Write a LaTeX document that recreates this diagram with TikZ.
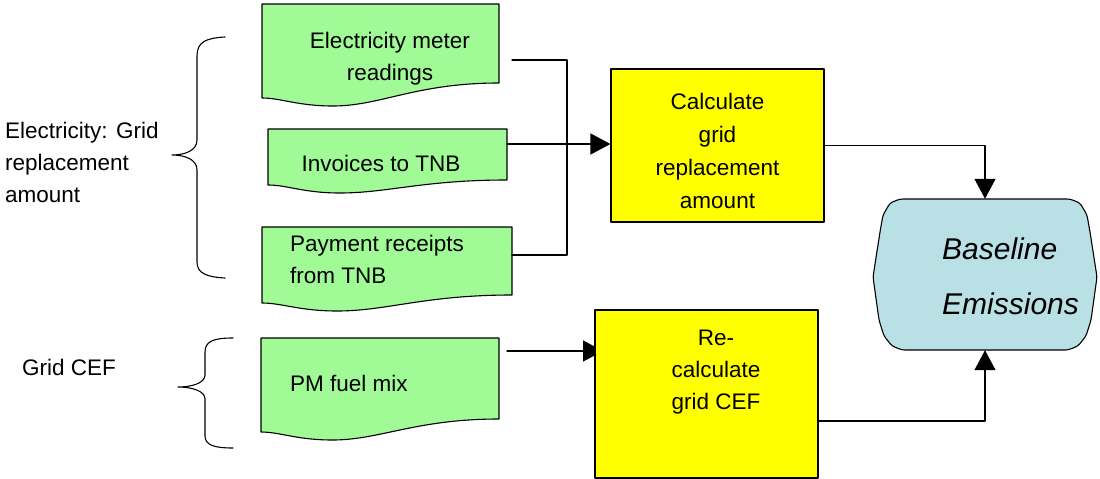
\documentclass[tikz,border=0pt]{standalone}
\usepackage{fontspec}
\setmainfont{Liberation Sans}
\usetikzlibrary{arrows.meta,calc,positioning}
\definecolor{docgreen}{RGB}{160,250,150}
\definecolor{boxyellow}{RGB}{255,255,0}
\definecolor{baseblue}{RGB}{185,224,228}
\tikzset{
  docf/.style={draw, fill=docgreen, line width=1.1pt},
  calcbox/.style={rectangle, draw, fill=boxyellow, line width=1.1pt, inner sep=0pt},
  txt/.style={inner sep=0pt, align=center, font=\fontsize{22.5}{32}\selectfont},
  wire/.style={line width=1.3pt},
  arr/.style={wire, -{Triangle[length=20pt,width=21pt]}},
  brc/.style={line width=1.1pt},
  every picture/.style={line cap=round, line join=round}
}
% document shape: left x, top y, right x, right bottom y, left bottom y
\newcommand{\docpath}[5]{%
  \draw[docf] (#1,#2) -- (#3,#2) -- (#3,#4)
    .. controls ({#3-0.35*(#3-#1)},#4) and ({#1+0.5*(#3-#1)},{#5+8}) .. ({#1+0.3*(#3-#1)},{#5+8})
    .. controls ({#1+0.15*(#3-#1)},{#5+8}) and ({#1+0.08*(#3-#1)},#5) .. (#1,#5) -- cycle;}

\begin{document}
\begin{tikzpicture}[x=1pt,y=-1pt]
  \useasboundingbox (0,0) rectangle (1100,479);
  % documents
  \docpath{262}{4}{499}{83}{98}
  \docpath{268}{129}{507}{180}{185}
  \docpath{262}{227}{512}{295}{303}
  \docpath{261}{338}{499}{419}{432}
  \node[txt] (meter) at (390,59) {Electricity meter\\readings};
  \node[txt] (invoice) at (381,163) {Invoices to TNB};
  \node[txt, anchor=west, align=left] (receipt) at (290,259) {Payment receipts\\from TNB};
  \node[txt, anchor=west] (fuelmix) at (290,383) {PM fuel mix};
  % connectors into the boxes
  \coordinate (mout) at (512,60);
  \coordinate (rout) at (512,255);
  \coordinate (iout) at (507,144);
  \coordinate (fout) at (507,351);
  \coordinate (fin) at (603,351);
  \draw[wire] (mout) -- ++(55,0) |- (rout);
  \draw[arr] (fout) -- (fin);
  % process boxes
  \node[calcbox, minimum width=213pt, minimum height=153pt] (calc) at (717.5,145.5) {};
  \node[calcbox, minimum width=223pt, minimum height=168pt] (recalc) at (706.5,394) {};
  \node[txt, font=\fontsize{22.5}{33}\selectfont] (calct) at (717.5,151) {Calculate\\grid\\replacement\\amount};
  \node[txt] (recalct) at (716,372) {Re-\\calculate\\grid CEF};
  \draw[arr] (iout) -- (iout -| calc.west);
  % baseline
  \draw[fill=baseblue, line width=1.1pt, rounded corners=3pt] (900,199) -- (1070,199)
    -- (1080,203) -- (1087,215) -- (1090,232) -- (1097,277) -- (1091,320)
    -- (1086,336) -- (1078,346) -- (1068,350) -- (902,350) -- (892,346)
    -- (884,336) -- (879,320) -- (873,277) -- (880,232) -- (883,215)
    -- (890,203) -- cycle;
  \node[minimum width=224pt, minimum height=151pt, inner sep=0pt] (base) at (985,274.5) {};
  \node[txt, anchor=west, align=left, font=\itshape\fontsize{30}{55}\selectfont] (baset) at (942,276) {Baseline\\Emissions};
  % left labels
  \node[txt, anchor=west, align=left] (elec) at (5,162) {Electricity: Grid\\replacement\\amount};
  \node[txt, anchor=west] (cef) at (22,367) {Grid CEF};
  % braces
  \draw[brc] (225,37) .. controls (206,38) and (197,42) .. (197,56) -- (197,140)
    .. controls (197,150) and (186,155) .. (172,155)
    .. controls (186,155) and (197,160) .. (197,170) -- (197,262)
    .. controls (197,273) and (206,277) .. (225,278);
  \draw[brc] (233,338) .. controls (214,338) and (205,341) .. (205,352) -- (205,375)
    .. controls (205,383) and (192,387) .. (178,387)
    .. controls (192,387) and (205,391) .. (205,399) -- (205,436)
    .. controls (205,445) and (214,448) .. (233,448);
  % connectors into the baseline
  \draw[arr] (calc.east) -| (base.north);
  \draw[arr] ([yshift=-27pt]recalc.east) -| (base.south);
\end{tikzpicture}
\end{document}
